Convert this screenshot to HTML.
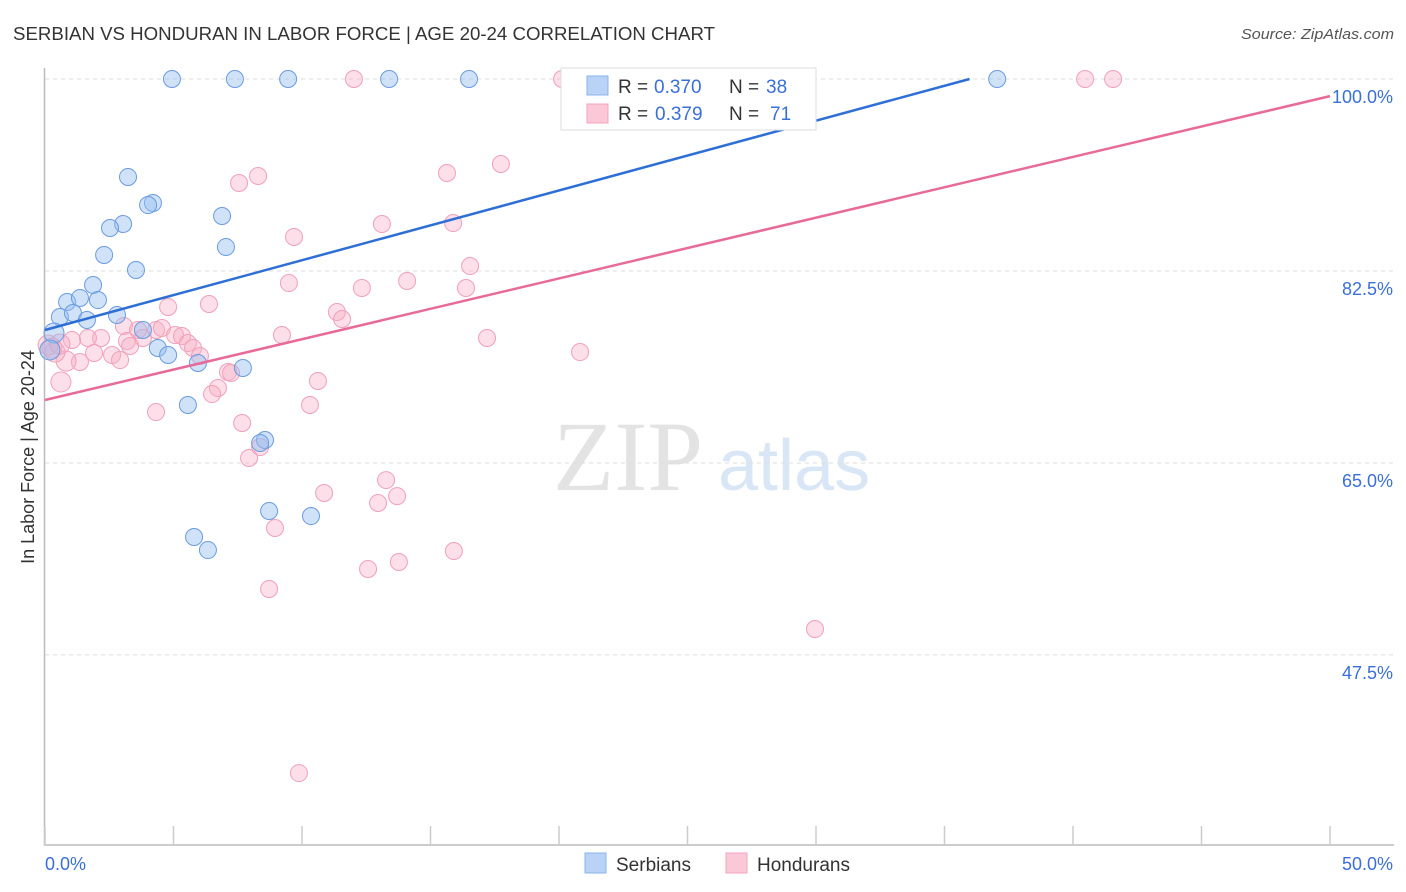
<!DOCTYPE html>
<html><head><meta charset="utf-8">
<style>
html,body{margin:0;background:#fff;font-family:"Liberation Sans",sans-serif;overflow:hidden;}
svg{display:block;}
</style></head>
<body>
<svg id="chart" width="1406" height="892" xmlns="http://www.w3.org/2000/svg" font-family="Liberation Sans, sans-serif">
<text x="13" y="40" font-size="18" fill="#333" textLength="702" lengthAdjust="spacingAndGlyphs">SERBIAN VS HONDURAN IN LABOR FORCE | AGE 20-24 CORRELATION CHART</text>
<text x="1394" y="39" font-size="15" fill="#555" font-style="italic" text-anchor="end" textLength="153" lengthAdjust="spacingAndGlyphs">Source: ZipAtlas.com</text>
<g>
<text x="553" y="490" style="font-family:'Liberation Serif',serif;font-size:100px" fill="#e3e3e3">ZIP</text>
<text x="718" y="490" style="font-family:'Liberation Sans',sans-serif;font-size:72px" fill="#d8e6f6">atlas</text>
</g>
<g id="grid"></g>
<g id="axes"></g>
<g id="marks"></g>
<g>
<rect x="561" y="68" width="255" height="62" fill="#fff" stroke="#ddd"/>
<rect x="587" y="76" width="21" height="19" fill="#b8d3f5" stroke="#8ab4e8"/>
<rect x="587" y="104" width="21" height="19" fill="#fbc8d8" stroke="#f0a5bd"/>
<text x="618" y="93" font-size="19" fill="#333">R = </text><text x="654" y="93" font-size="19" fill="#3a6fd8">0.370</text>
<text x="729" y="93" font-size="19" fill="#333">N = </text><text x="766" y="93" font-size="19" fill="#3a6fd8">38</text>
<text x="618" y="120" font-size="19" fill="#333">R = </text><text x="655" y="120" font-size="19" fill="#3a6fd8">0.379</text>
<text x="729" y="120" font-size="19" fill="#333">N = </text><text x="770" y="120" font-size="19" fill="#3a6fd8">71</text>
</g>
<g>
<rect x="585" y="853" width="21" height="20" fill="#b8d3f5" stroke="#8ab4e8"/>
<text x="616" y="871" font-size="19" fill="#333">Serbians</text>
<rect x="726" y="853" width="21" height="20" fill="#fbc8d8" stroke="#f0a5bd"/>
<text x="757" y="871" font-size="19" fill="#333">Hondurans</text>
</g>
<text transform="translate(34,457) rotate(-90)" font-size="18" fill="#333" text-anchor="middle">In Labor Force | Age 20-24</text>
</svg>
<script>
const serbX=[4.94,7.39,9.46,13.39,16.50,26.11,37.05,3.23,4.20,4.01,3.04,2.53,6.89,7.04,2.30,3.54,1.87,0.86,1.36,2.06,0.58,1.09,1.63,2.80,0.35,3.81,4.39,4.79,5.95,7.70,5.56,8.56,8.37,8.72,10.35,5.80,6.34,0.19];
const serbY=[100,100,100,100,100,100,100,91.07,88.70,88.51,86.78,86.42,87.51,84.68,83.96,82.59,81.22,79.67,80.04,79.85,78.30,78.67,78.03,78.49,76.85,77.12,75.48,74.84,74.11,73.66,70.28,67.09,66.82,60.62,60.16,58.25,57.06,75.30];
const hondX=[12.02,20.12,23.85,28.13,40.47,41.56,17.74,15.64,8.29,7.55,13.11,15.88,9.69,16.54,9.49,14.09,12.33,16.38,6.38,4.79,11.36,11.56,9.22,17.20,20.82,3.07,3.62,4.32,4.55,5.06,5.33,3.81,5.56,2.18,1.67,1.05,3.19,3.31,5.76,6.03,2.61,1.91,2.92,1.36,0.82,7.12,7.24,10.62,6.73,6.50,0.62,10.31,4.32,7.67,8.37,7.94,13.27,10.86,13.70,12.96,8.95,12.57,13.77,15.91,8.72,29.96,9.88,0.27,0.12,0.39,0.58];
const hondY=[100,100,100,100,100,100,92.25,91.43,91.16,90.52,86.78,86.87,85.60,82.95,81.40,81.59,80.95,80.95,79.49,79.22,78.76,78.12,76.66,76.39,75.11,77.48,77.12,77.12,77.30,76.66,76.57,76.39,75.93,76.39,76.39,76.21,76.12,75.66,75.48,74.75,74.84,75.02,74.38,74.20,74.29,73.29,73.20,72.47,71.83,71.28,72.38,70.28,69.64,68.64,66.45,65.45,63.44,62.26,61.98,61.35,59.07,55.33,55.97,56.97,53.51,49.86,36.73,75.48,75.75,75.11,75.84];
const yTicks=[100,82.5,65,47.5];
const yTickLabels=["100.0%","82.5%","65.0%","47.5%"];
const xTickVals=[0,5,10,15,20,25,30,35,40,45,50];
const serbFit=[77.12,0.636];
const hondFit=[70.74,0.554];

const NS="http://www.w3.org/2000/svg";
const X0=45,X1=1330,Y100=79,PXPER=10.97;
const sx=v=>X0+(v/50)*(X1-X0);
const sy=v=>Y100+(100-v)*PXPER;
function mk(tag,attrs,parent){const e=document.createElementNS(NS,tag);for(const k in attrs)e.setAttribute(k,attrs[k]);parent.appendChild(e);return e;}
const grid=document.getElementById('grid'),axes=document.getElementById('axes'),marks=document.getElementById('marks');
yTicks.forEach((t,i)=>{
 const l=mk('line',{x1:45,x2:1394,y1:sy(t),y2:sy(t),stroke:'#ddd','stroke-dasharray':'4,4'},grid);
 
 
 const tx=mk('text',{x:1393,y:sy(t)+24,'font-size':18,fill:'#3a6fd8','text-anchor':'end'},axes);
 tx.textContent=yTickLabels[i];
 
 
});
mk('line',{x1:44.5,x2:44.5,y1:68,y2:845,stroke:'#bbb','stroke-width':1.5},axes);
mk('line',{x1:44,x2:1394,y1:845,y2:845,stroke:'#bbb','stroke-width':1.5},axes);
xTickVals.forEach(t=>{
 const l=mk('line',{x1:sx(t),x2:sx(t),y1:826,y2:845,stroke:'#ccc','stroke-width':1.5},axes);
 
 
});
const xl0=mk('text',{x:45,y:870,'font-size':18,fill:'#3a6fd8'},axes);xl0.textContent='0.0%';


const xl1=mk('text',{x:1393,y:870,'font-size':18,fill:'#3a6fd8','text-anchor':'end'},axes);xl1.textContent='50.0%';



hondX.forEach((x,i)=>{
 const c=mk('circle',{cx:sx(x),cy:sy(hondY[i]),r:x<1?10:8.5,fill:'rgba(248,175,198,0.4)',stroke:'#f0a0ba','stroke-width':1},marks);
 
 
});
serbX.forEach((x,i)=>{
 const c=mk('circle',{cx:sx(x),cy:sy(serbY[i]),r:x<0.5?10:8.5,fill:'rgba(150,190,240,0.45)',stroke:'#6a9be0','stroke-width':1},marks);
 
 
});
const xEndS=(100-serbFit[0])/serbFit[1];
const ls=mk('line',{x1:sx(0),y1:sy(serbFit[0]),x2:sx(xEndS),y2:sy(100),stroke:'#2e6fd6','stroke-width':2.5},marks);


const lh=mk('line',{x1:sx(0),y1:sy(hondFit[0]),x2:sx(50),y2:sy(hondFit[0]+hondFit[1]*50),stroke:'#e76a98','stroke-width':2.5},marks);


</script>
</body></html>
